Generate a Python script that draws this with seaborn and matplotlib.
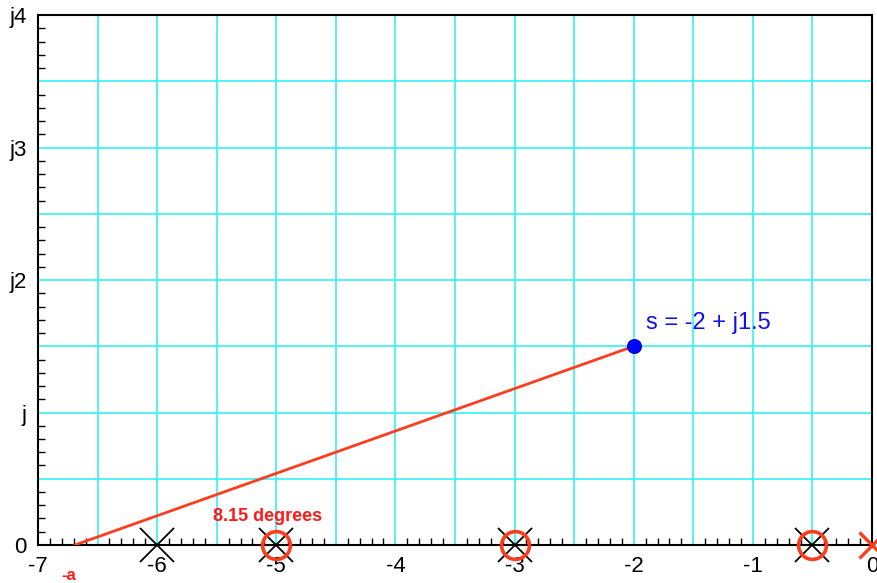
import numpy as np
import pandas as pd
import matplotlib
matplotlib.use("Agg")
import matplotlib.pyplot as plt
import seaborn as sns
from matplotlib.ticker import MultipleLocator

sns.set_style("white")
plt.rcParams['font.family'] = ['Liberation Sans', 'DejaVu Sans']

# open-loop poles (black x), zeros (red o), red pole at origin
poles = [-6, -5, -3, -0.5]
zeros = [-5, -3, -0.5]
origin_pole = [0]

# test point and the -a point on the real axis
s_point = (-2, 1.5)
a_point = -6.69

x_ticks = [-7, -6, -5, -4, -3, -2, -1, 0]
y_ticks = [0, 1, 2, 3, 4]
y_labels = ['0', 'j', 'j2', 'j3', 'j4']

fig = plt.figure(figsize=(8.77, 5.83), dpi=100)
ax = fig.add_axes([0.0433, 0.0652, 0.951, 0.909])

line_df = pd.DataFrame({'re': [a_point, s_point[0]], 'im': [0, s_point[1]]})
sns.lineplot(data=line_df, x='re', y='im', color='#ff3c1e', lw=2, ax=ax, zorder=3)

ax.plot(poles, [0] * len(poles), 'x', color='black', ms=24, mew=1.3, zorder=4, clip_on=False)
ax.plot(zeros, [0] * len(zeros), 'o', mfc='none', mec='#ff3c1e', ms=20, mew=2.6, zorder=4, clip_on=False)
ax.plot(origin_pole, [0], 'x', color='#ff3c1e', ms=19, mew=2.4, zorder=5, clip_on=False)

sns.scatterplot(x=[s_point[0]], y=[s_point[1]], color='#0000ff', s=100, ax=ax, zorder=6,
                edgecolor='#0000cc', clip_on=False)

ax.text(-1.9, 1.63, 's = -2 + j1.5', color='#1010e8', fontsize=17)
ax.text(-5.53, 0.18, '8.15 degrees', color='#ff1a1a', fontsize=13, fontweight='bold')
ax.text(-6.8, -0.17, '-a', color='#ff1a1a', fontsize=12, fontweight='bold', va='top')

ax.set_xlim(-7, 0)
ax.set_ylim(0, 4)
ax.xaxis.set_minor_locator(MultipleLocator(0.1))
ax.yaxis.set_minor_locator(MultipleLocator(0.1))
ax.grid(True, which='major', color='#33f0f5', lw=1.2)
ax.set_xticks(np.arange(-7, 0.01, 0.5))
ax.set_xticklabels([str(int(v)) if v == int(v) else '' for v in np.arange(-7, 0.01, 0.5)])
ax.set_yticks(np.arange(0, 4.01, 0.5))
ax.set_yticklabels([y_labels[int(v)] if v == int(v) else '' for v in np.arange(0, 4.01, 0.5)])
ax.tick_params(which='both', direction='in', length=5, width=1, colors='black',
               labelsize=16, left=True, bottom=True)
ax.tick_params(which='major', length=0)
ax.tick_params(axis='x', pad=8)
ax.tick_params(axis='y', pad=8)
ax.set_xlabel('')
ax.set_ylabel('')
for sp in ax.spines.values():
    sp.set_color('black')
    sp.set_linewidth(1.5)

fig.savefig('out.png', dpi=100)
